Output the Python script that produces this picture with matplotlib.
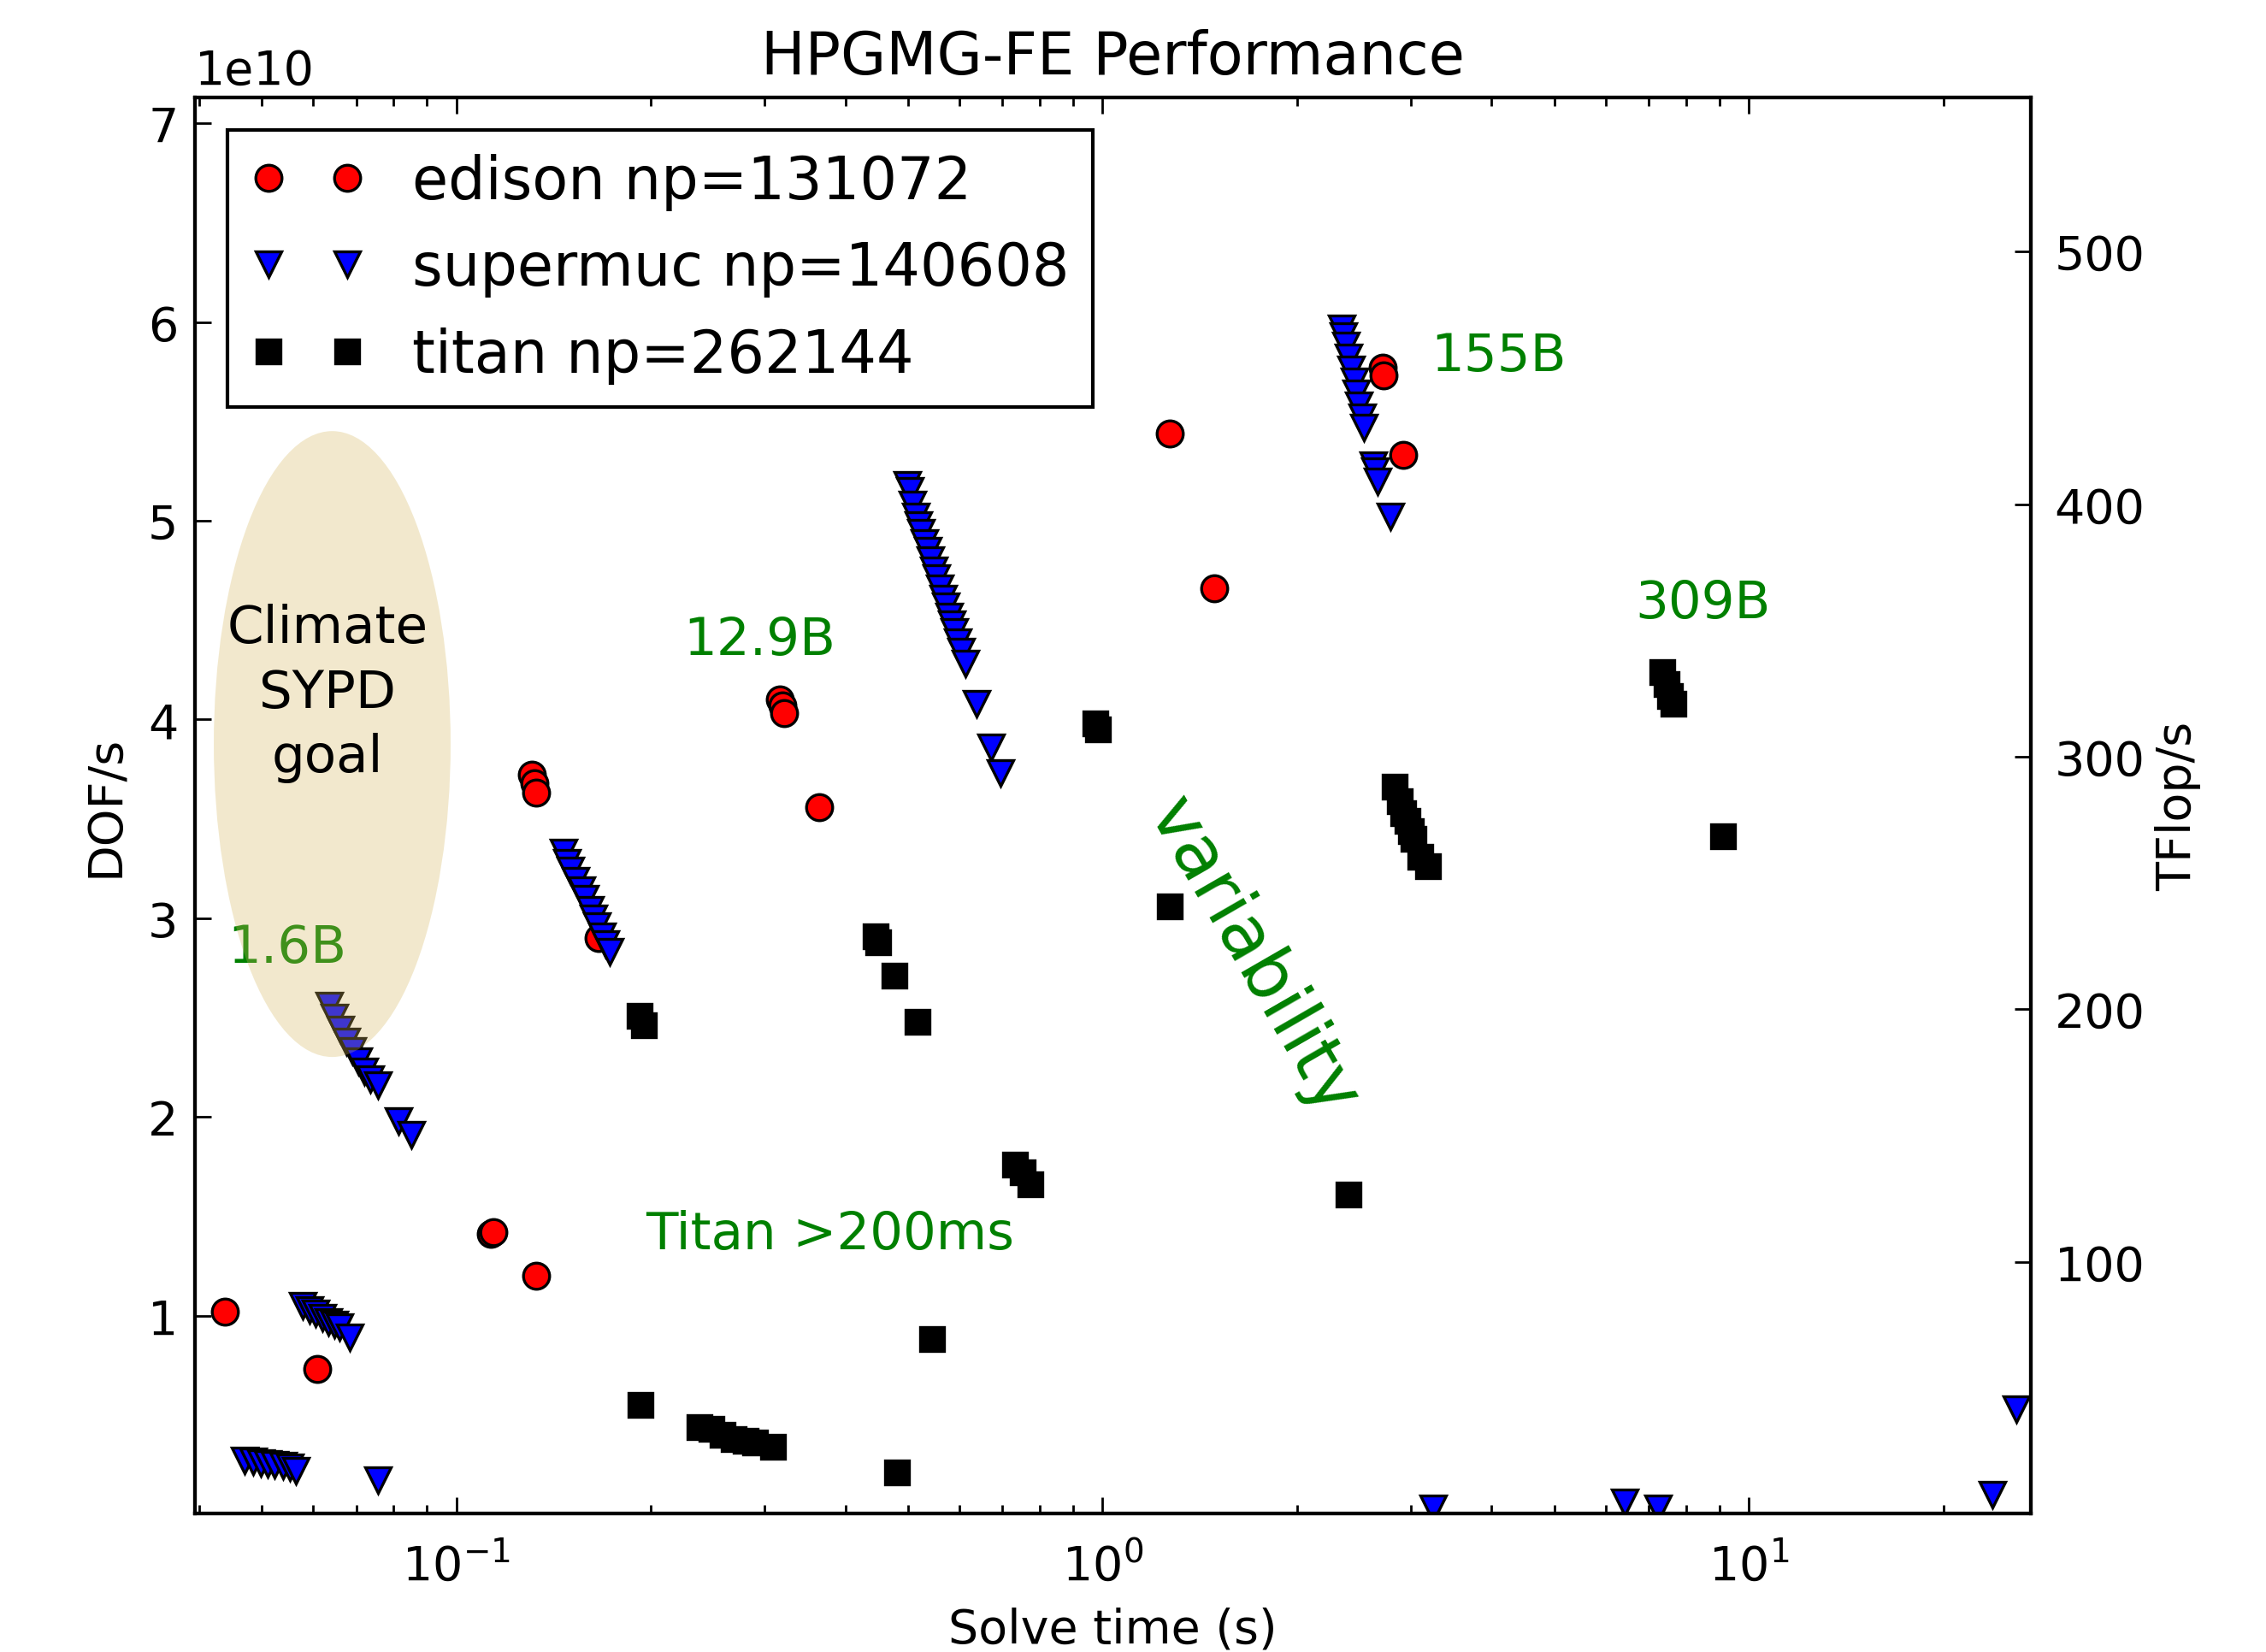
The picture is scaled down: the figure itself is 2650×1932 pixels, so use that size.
#importing dependencies
import matplotlib.pyplot as plt
from matplotlib.patches import Ellipse

plt.rcParams['font.family'] = ['DejaVu Sans']
plt.rcParams['mathtext.fontset'] = 'dejavusans'

#Data (solve time in s, DOF/s in units of 1e10)
edison_t = [0.0439, 0.061, 0.113, 0.114, 0.133, 0.131, 0.132, 0.133, 0.166,
            0.317, 0.320, 0.322, 0.364, 1.27, 1.49, 2.71, 2.72, 2.92]
edison_dof = [1.02, 0.73, 1.41, 1.42, 1.20, 3.72, 3.68, 3.63, 2.90,
              4.10, 4.07, 4.03, 3.56, 5.44, 4.66, 5.77, 5.73, 5.33]

supermuc_t = [0.0471, 0.0485, 0.0499, 0.051, 0.0524, 0.054, 0.0553, 0.0564,
              0.0757,
              0.0578, 0.0592, 0.0605, 0.062, 0.0633, 0.0647, 0.066, 0.0685,
              0.0636, 0.0648, 0.0662, 0.0676, 0.069, 0.0705, 0.072, 0.0735, 0.0757, 0.0814, 0.0853,
              0.1465, 0.1485, 0.150, 0.153, 0.156, 0.158, 0.161, 0.163, 0.165, 0.168, 0.170, 0.1726,
              0.499, 0.503, 0.508, 0.514, 0.519, 0.524, 0.530, 0.536, 0.541, 0.548,
              0.553, 0.560, 0.566, 0.571, 0.578, 0.584, 0.590, 0.597, 0.604, 0.613,
              0.639, 0.673, 0.694,
              2.34, 2.36, 2.38, 2.40, 2.42, 2.45, 2.47, 2.49, 2.52, 2.54, 2.62, 2.64, 2.66, 2.79,
              3.25, 6.42, 7.23, 23.8, 25.9]
supermuc_dof = [0.27, 0.265, 0.26, 0.255, 0.25, 0.245, 0.235, 0.22,
                0.17,
                1.05, 1.03, 1.01, 0.99, 0.97, 0.955, 0.94, 0.89,
                2.56, 2.50, 2.44, 2.38, 2.33, 2.28, 2.23, 2.19, 2.16, 1.98, 1.91,
                3.33, 3.28, 3.24, 3.19, 3.14, 3.10, 3.04, 3.00, 2.96, 2.91, 2.87, 2.83,
                5.18, 5.15, 5.08, 5.02, 4.98, 4.94, 4.89, 4.85, 4.80, 4.75,
                4.71, 4.66, 4.61, 4.57, 4.52, 4.48, 4.44, 4.39, 4.34, 4.28,
                4.08, 3.86, 3.73,
                5.97, 5.93, 5.88, 5.82, 5.76, 5.70, 5.64, 5.58, 5.52, 5.47, 5.28, 5.25, 5.20, 5.02,
                0.03, 0.06, 0.03, 0.10, 0.53]

titan_t = [0.193, 0.238, 0.248, 0.258, 0.269, 0.280, 0.290, 0.309, 0.481, 0.545,
           0.192, 0.195, 0.446, 0.450, 0.476, 0.517, 0.731, 0.753, 0.774,
           0.974, 0.985, 1.27, 2.40,
           2.83, 2.88, 2.92, 2.96, 3.00, 3.03, 3.10, 3.19,
           7.34, 7.45, 7.55, 7.65, 9.12]
titan_dof = [0.55, 0.44, 0.43, 0.40, 0.38, 0.37, 0.36, 0.34, 0.21, 0.88,
             2.51, 2.46, 2.91, 2.88, 2.71, 2.48, 1.76, 1.72, 1.66,
             3.98, 3.95, 3.06, 1.61,
             3.66, 3.59, 3.53, 3.49, 3.44, 3.40, 3.31, 3.26,
             4.24, 4.18, 4.12, 4.08, 3.41]

# TFlop/s per DOF/s, for the right axis
tflops_per_dof = 78.68 / 1e10

#Plotting
fig = plt.figure(figsize=(13.25, 9.665), dpi=200)
ax = fig.add_axes([0.086, 0.0838, 0.8102, 0.8567])

ax.plot(edison_t, [v * 1e10 for v in edison_dof], 'o', color='red', mec='black',
        mew=1.2, ms=11, label='edison np=131072')
ax.plot(supermuc_t, [v * 1e10 for v in supermuc_dof], 'v', color='blue', mec='black',
        mew=1.2, ms=10.5, label='supermuc np=140608')
ax.plot(titan_t, [v * 1e10 for v in titan_dof], 's', color='black', mec='black',
        mew=1.2, ms=10, label='titan np=262144')

ax.set_xscale('log')
ax.set_xlim(0.0394, 27.3)
ax.set_ylim(0.004e10, 7.13e10)

goal = Ellipse((0.0748, 0.5434), 0.129, 0.442, transform=ax.transAxes,
               facecolor='#d4b65c', alpha=0.3, edgecolor='none', zorder=5)
ax.add_patch(goal)
ax.text(0.0632, 4.135e10, 'Climate\nSYPD\ngoal', ha='center', va='center',
        multialignment='center', fontsize=22, linespacing=1.35, zorder=6)

ax.text(0.0443, 2.85e10, '1.6B', color='green', fontsize=22, va='center', zorder=3)
ax.text(0.2245, 4.40e10, '12.9B', color='green', fontsize=22, va='center')
ax.text(3.22, 5.83e10, '155B', color='green', fontsize=22, va='center')
ax.text(6.66, 4.585e10, '309B', color='green', fontsize=22, va='center')
ax.text(0.1964, 1.407e10, 'Titan >200ms', color='green', fontsize=22, va='center')
ax.text(1.709, 2.81e10, 'variability', color='green', fontsize=30,
        rotation=-60, ha='center', va='center', rotation_mode='anchor')

ax.set_title('HPGMG-FE Performance', fontsize=24.7, pad=10)
ax.set_xlabel('Solve time (s)', fontsize=20, labelpad=7)
ax.set_ylabel('DOF/s', fontsize=20, labelpad=8)
ax.yaxis.get_offset_text().set_fontsize(20)
ax.yaxis.OFFSETTEXTPAD = 6

ax.tick_params(which='both', direction='in', top=True, right=False, labelsize=20)
ax.tick_params(axis='x', which='both', pad=12)
ax.tick_params(axis='y', pad=7)
ax.tick_params(which='major', length=7, width=1)
ax.tick_params(which='minor', length=3.5, width=1)

leg = ax.legend(loc='upper left', numpoints=2, fontsize=24.7, fancybox=False,
                framealpha=1, handlelength=1.95, borderaxespad=0.55)
leg.get_frame().set_edgecolor('black')
leg.get_frame().set_linewidth(1.5)

ax2 = ax.twinx()
ylo, yhi = ax.get_ylim()
ax2.set_ylim(ylo * tflops_per_dof, yhi * tflops_per_dof)
ax2.set_ylabel('TFlop/s', fontsize=20)
ax2.tick_params(direction='in', labelsize=20, length=7, width=1, pad=10)

for a in (ax, ax2):
    for s in a.spines.values():
        s.set_linewidth(1.5)

fig.savefig('out.png', dpi=200)
